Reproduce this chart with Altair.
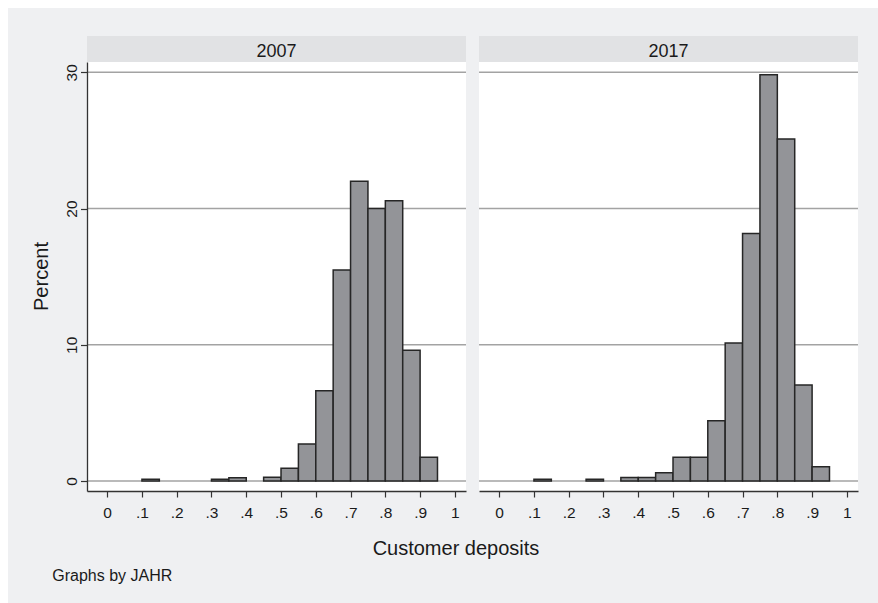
import altair as alt
import pandas as pd

# ---- data ----
bin_starts = [0.00, 0.05, 0.10, 0.15, 0.20, 0.25, 0.30, 0.35, 0.40, 0.45,
              0.50, 0.55, 0.60, 0.65, 0.70, 0.75, 0.80, 0.85, 0.90, 0.95]
bin_width = 0.05
pct_2007 = [0, 0, 0.12, 0, 0, 0, 0.12, 0.24, 0, 0.27,
            0.93, 2.72, 6.63, 15.49, 22.0, 20.0, 20.58, 9.6, 1.74, 0]
pct_2017 = [0, 0, 0.12, 0, 0, 0.12, 0, 0.25, 0.25, 0.61,
            1.74, 1.74, 4.43, 10.13, 18.16, 29.83, 25.11, 7.05, 1.05, 0]
years = ["2007", "2017"]
x_ticks = [0, 0.1, 0.2, 0.3, 0.4, 0.5, 0.6, 0.7, 0.8, 0.9, 1.0]
y_ticks = [0, 10, 20, 30]
x_title = "Customer deposits"
y_title = "Percent"
note = "Graphs by JAHR"

# ---- styling ----
W, H, HEADER = 379, 429, 26
XDOM = [-0.058, 1.032]
YDOM = [-0.734, 30.757]
FONT = "Liberation Sans"
BG = "#eff0f2"
HEAD_BG = "#e1e2e4"
TXT = "#1a1a1a"
AX = "#333333"
GRID = "#a3a3a3"
BAR = "#939498"
BAR_EDGE = "#262626"

one = pd.DataFrame({"k": [0]})
label_expr = ("datum.value == 0 ? '0' : datum.value == 1 ? '1' : "
              "replace(format(datum.value, '.1f'), '0.', '.')")


def panel(year, pcts, left):
    df = pd.DataFrame({"start": bin_starts, "pct": pcts})
    df["end"] = df["start"] + bin_width
    df = df[df["pct"] > 0]

    xscale = alt.Scale(domain=XDOM, nice=False, zero=False)
    yscale = alt.Scale(domain=YDOM, nice=False, zero=False)
    xaxis = alt.Axis(values=x_ticks, labelExpr=label_expr, title=None, grid=False,
                     domainColor=AX, domainWidth=1.3, tickColor=AX, tickWidth=1.2,
                     tickSize=6, labelFont=FONT, labelFontSize=15.5, labelColor=TXT,
                     labelBaseline="alphabetic", labelPadding=20.7, labelAlign="center",
                     labelFlush=False, labelOverlap=False, zindex=1)
    if left:
        yaxis = alt.Axis(values=y_ticks, title=None, grid=False, labelAngle=270,
                         labelAlign="center", labelBaseline="alphabetic", labelPadding=4.5,
                         tickSize=6.5, tickColor=AX, tickWidth=1.2, domainColor=AX,
                         domainWidth=1.3, labelFont=FONT, labelFontSize=15.5,
                         labelColor=TXT, labelFlush=False, labelOverlap=False, zindex=1)
    else:
        yaxis = None

    layers = []
    if left:
        # outer grey background
        layers.append(alt.Chart(one).mark_rect(color=BG).encode(
            x=alt.value(-79), x2=alt.value(791), y=alt.value(-54), y2=alt.value(541)))
        # white plot region
        layers.append(alt.Chart(one).mark_rect(color="white").encode(
            x=alt.value(0), x2=alt.value(W), y=alt.value(0), y2=alt.value(H)))
    # header strip
    layers.append(alt.Chart(one).mark_rect(color=HEAD_BG).encode(
        x=alt.value(0), x2=alt.value(W), y=alt.value(-HEADER), y2=alt.value(0)))
    layers.append(alt.Chart(one).mark_text(
        text=year, font=FONT, fontSize=18, color=TXT, align="center",
        baseline="alphabetic").encode(x=alt.value(W / 2), y=alt.value(-5.5)))
    # horizontal grid lines
    grid_df = pd.DataFrame({"v": y_ticks})
    layers.append(alt.Chart(grid_df).mark_rule(color=GRID, strokeWidth=1.5).encode(
        y=alt.Y("v:Q", scale=yscale, axis=yaxis),
        x=alt.value(0), x2=alt.value(W)))
    # histogram bars
    layers.append(alt.Chart(df).mark_bar(
        color=BAR, stroke=BAR_EDGE, strokeWidth=1.5, binSpacing=0).encode(
        x=alt.X("start:Q", scale=xscale, axis=xaxis),
        x2="end:Q",
        y=alt.Y("pct:Q", scale=yscale, axis=yaxis),
        y2=alt.datum(0)))
    if left:
        layers.append(alt.Chart(one).mark_text(
            text=y_title, font=FONT, fontSize=20, color=TXT, angle=270,
            align="center", baseline="middle").encode(
            x=alt.value(-45.3), y=alt.value(H / 2)))
        layers.append(alt.Chart(one).mark_text(
            text=x_title, font=FONT, fontSize=20, color=TXT, align="center",
            baseline="alphabetic").encode(x=alt.value(369), y=alt.value(493)))
        layers.append(alt.Chart(one).mark_text(
            text=note, font=FONT, fontSize=16, color=TXT, align="left",
            baseline="alphabetic").encode(x=alt.value(-34.7), y=alt.value(518.7)))
    return alt.layer(*layers).properties(width=W, height=H)


chart = alt.hconcat(
    panel(years[0], pct_2007, True),
    panel(years[1], pct_2017, False),
    spacing=13, bounds="flush"
).properties(
    background="white",
    padding={"left": 8, "top": 8, "right": 0, "bottom": 0}
).configure_view(fill="white", strokeWidth=0)

chart.save("out.html", embed_options={"renderer": "svg", "actions": False})
